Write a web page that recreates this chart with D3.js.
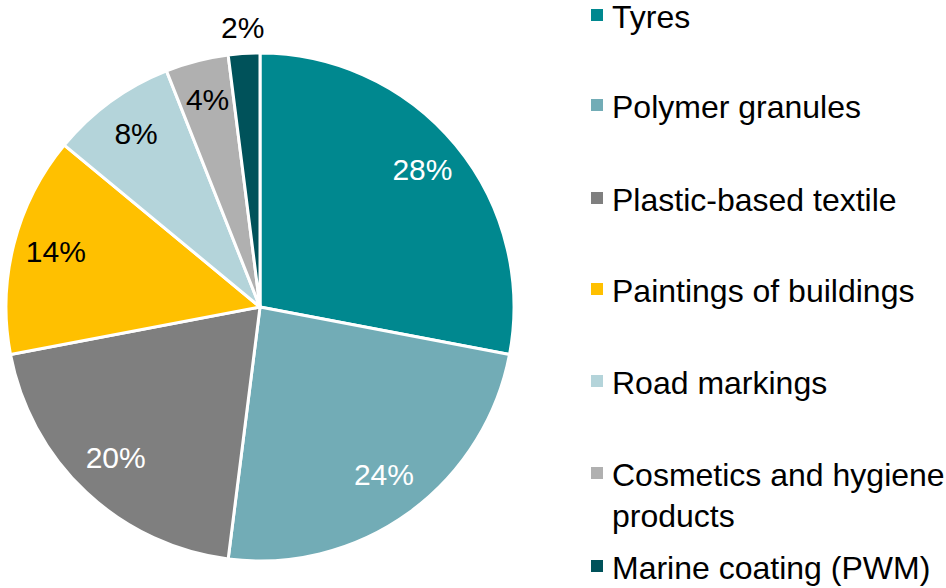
<!DOCTYPE html>
<html><head><meta charset="utf-8">
<script src="https://cdn.jsdelivr.net/npm/d3@7"></script>
<style>body{margin:0;background:#fff}svg{display:block}</style>
</head><body>
<svg id="c" width="946" height="588"></svg>
<script>
const categories = ["Tyres","Polymer granules","Plastic-based textile","Paintings of buildings","Road markings","Cosmetics and hygiene products","Marine coating (PWM)"];
const legendLines = [["Tyres"],["Polymer granules"],["Plastic-based textile"],["Paintings of buildings"],["Road markings"],["Cosmetics and hygiene","products"],["Marine coating (PWM)"]];
const values = [28,24,20,14,8,4,2];
const colors = ["#00888F","#72ACB6","#7F7F7F","#FFC000","#B4D4DA","#B0B0B0","#00525A"];
const labelColors = ["#fff","#fff","#fff","#000","#000","#000","#000"];
const legendBaselines = [28,118,211,302,394,486,579];

const svg = d3.select("#c");
const font = "'Liberation Sans', Arial, sans-serif";
const cx = 260, cy = 307, r = 254;
const pie = d3.pie().sort(null).value(d=>d)(values);
const arc = d3.arc().innerRadius(0).outerRadius(r);
const g = svg.append("g").attr("transform",`translate(${cx},${cy})`);
g.selectAll("path").data(pie).join("path")
  .attr("d",arc).attr("fill",(d,i)=>colors[i])
  .attr("stroke","#fff").attr("stroke-width",3).attr("stroke-linejoin","round");
const lab = d3.arc().innerRadius(r*0.83).outerRadius(r*0.83);
const outLab = d3.arc().innerRadius(r*1.09).outerRadius(r*1.09);
g.selectAll("text").data(pie).join("text")
  .attr("transform",(d,i)=>{const c=(i===6?outLab:lab).centroid(d);return `translate(${c[0]},${c[1]-3})`;})
  .attr("text-anchor","middle").attr("dominant-baseline","central")
  .attr("font-family",font).attr("font-size",30)
  .attr("fill",(d,i)=>labelColors[i])
  .text(d=>d.data+"%");

const lg = svg.append("g");
legendLines.forEach((lines,i)=>{
  const y = legendBaselines[i];
  lg.append("rect").attr("x",591).attr("y",y-19).attr("width",12).attr("height",12).attr("fill",colors[i]);
  lines.forEach((t,j)=>{
    lg.append("text").attr("x",612).attr("y",y+j*41).attr("font-family",font).attr("font-size",32).attr("fill","#000").text(t);
  });
});
</script>
</body></html>
